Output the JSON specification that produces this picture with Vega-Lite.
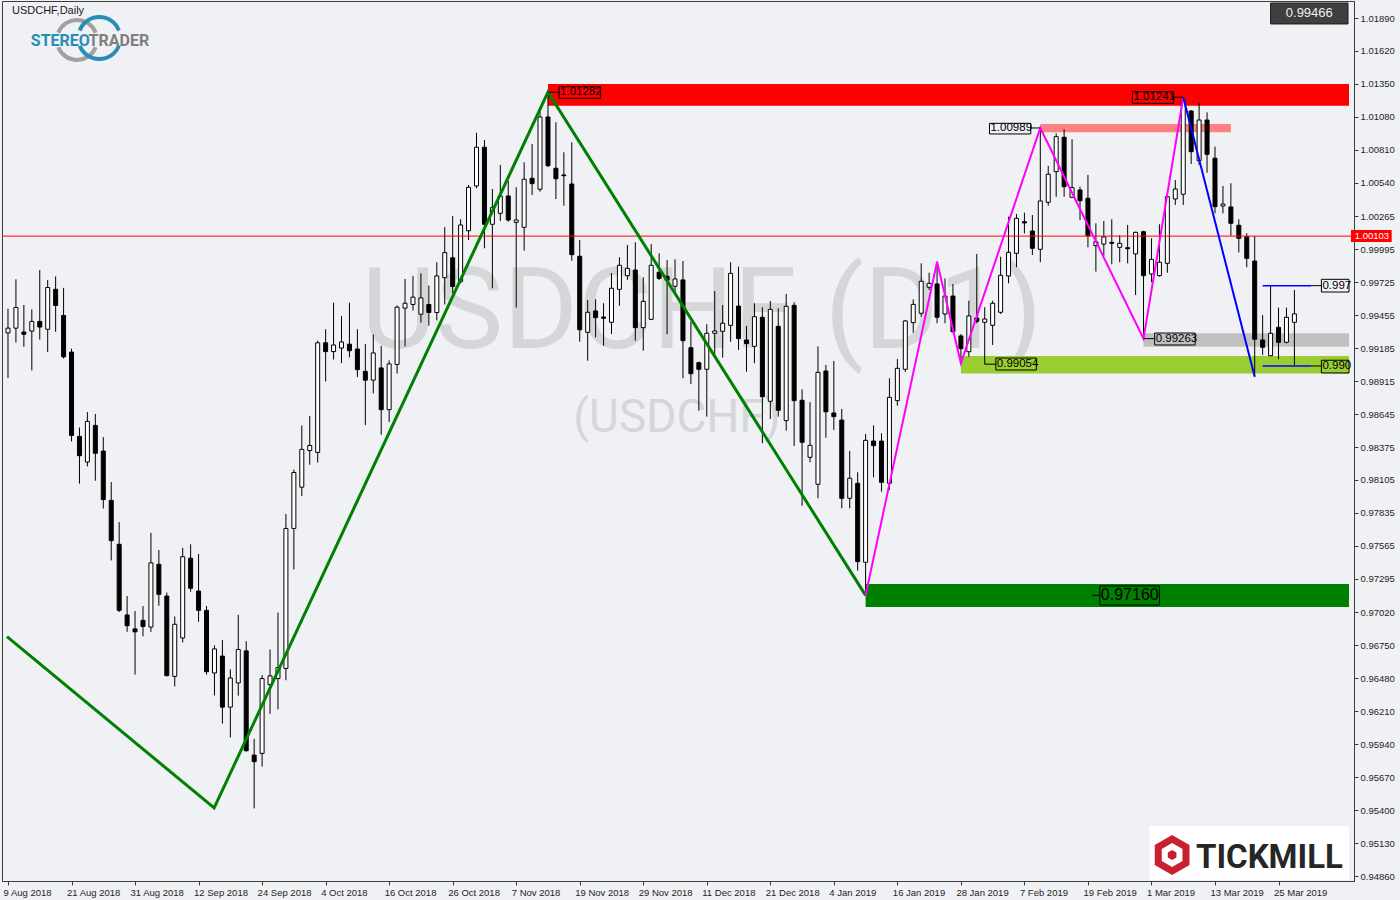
{
"$schema": "https://vega.github.io/schema/vega-lite/v6.json",
"width": 1352, "height": 880,
"autosize": {"type": "none"},
"padding": {"left": 2, "top": 1, "right": 46, "bottom": 19},
"background": "#eff1f4",
"config": {"view": {"stroke": "#3c3c3c", "fill": "#eff1f4"}},
"datasets": {
"candles": [
{"i":0,"o":0.99310,"h":0.99509,"l":0.98939,"c":0.99349},
{"i":1,"o":0.99349,"h":0.99749,"l":0.99231,"c":0.99518},
{"i":2,"o":0.99317,"h":0.99539,"l":0.99196,"c":0.99299},
{"i":3,"o":0.99325,"h":0.99503,"l":0.99003,"c":0.99404},
{"i":4,"o":0.99404,"h":0.99825,"l":0.99255,"c":0.99358},
{"i":5,"o":0.99340,"h":0.99744,"l":0.99153,"c":0.99682},
{"i":6,"o":0.99667,"h":0.99773,"l":0.99319,"c":0.99535},
{"i":7,"o":0.99453,"h":0.99679,"l":0.99100,"c":0.99114},
{"i":8,"o":0.99153,"h":0.99181,"l":0.98421,"c":0.98470},
{"i":9,"o":0.98462,"h":0.98535,"l":0.98075,"c":0.98304},
{"i":10,"o":0.98252,"h":0.98661,"l":0.98216,"c":0.98585},
{"i":11,"o":0.98552,"h":0.98646,"l":0.98099,"c":0.98324},
{"i":12,"o":0.98342,"h":0.98456,"l":0.97871,"c":0.97944},
{"i":13,"o":0.97938,"h":0.98088,"l":0.97446,"c":0.97608},
{"i":14,"o":0.97578,"h":0.97760,"l":0.97023,"c":0.97037},
{"i":15,"o":0.96999,"h":0.97154,"l":0.96861,"c":0.96911},
{"i":16,"o":0.96885,"h":0.97031,"l":0.96511,"c":0.96861},
{"i":17,"o":0.96955,"h":0.97072,"l":0.96824,"c":0.96905},
{"i":18,"o":0.96900,"h":0.97672,"l":0.96861,"c":0.97426},
{"i":19,"o":0.97414,"h":0.97531,"l":0.97075,"c":0.97168},
{"i":20,"o":0.97154,"h":0.97183,"l":0.96496,"c":0.96502},
{"i":21,"o":0.96496,"h":0.96987,"l":0.96414,"c":0.96923},
{"i":22,"o":0.96811,"h":0.97549,"l":0.96774,"c":0.97476},
{"i":23,"o":0.97464,"h":0.97578,"l":0.97189,"c":0.97218},
{"i":24,"o":0.97195,"h":0.97499,"l":0.96943,"c":0.97037},
{"i":25,"o":0.97037,"h":0.97072,"l":0.96511,"c":0.96534},
{"i":26,"o":0.96524,"h":0.96750,"l":0.96340,"c":0.96721},
{"i":27,"o":0.96662,"h":0.96794,"l":0.96109,"c":0.96244},
{"i":28,"o":0.96244,"h":0.96554,"l":0.95995,"c":0.96483},
{"i":29,"o":0.96442,"h":0.97000,"l":0.96338,"c":0.96716},
{"i":30,"o":0.96705,"h":0.96784,"l":0.95880,"c":0.95887},
{"i":31,"o":0.95851,"h":0.95984,"l":0.95414,"c":0.95797},
{"i":32,"o":0.95865,"h":0.96507,"l":0.95757,"c":0.96478},
{"i":33,"o":0.96428,"h":0.96716,"l":0.96189,"c":0.96500},
{"i":34,"o":0.96478,"h":0.97019,"l":0.96225,"c":0.96568},
{"i":35,"o":0.96561,"h":0.97826,"l":0.96464,"c":0.97708},
{"i":36,"o":0.97708,"h":0.98190,"l":0.97372,"c":0.98166},
{"i":37,"o":0.98046,"h":0.98551,"l":0.97974,"c":0.98356},
{"i":38,"o":0.98346,"h":0.98630,"l":0.98230,"c":0.98388},
{"i":39,"o":0.98331,"h":0.99247,"l":0.98248,"c":0.99229},
{"i":40,"o":0.99229,"h":0.99340,"l":0.98912,"c":0.99157},
{"i":41,"o":0.99157,"h":0.99557,"l":0.99092,"c":0.99211},
{"i":42,"o":0.99186,"h":0.99449,"l":0.99063,"c":0.99236},
{"i":43,"o":0.99218,"h":0.99557,"l":0.99110,"c":0.99164},
{"i":44,"o":0.99178,"h":0.99340,"l":0.98948,"c":0.99009},
{"i":45,"o":0.98995,"h":0.99218,"l":0.98555,"c":0.98923},
{"i":46,"o":0.98923,"h":0.99297,"l":0.98814,"c":0.99146},
{"i":47,"o":0.99023,"h":0.99204,"l":0.98475,"c":0.98681},
{"i":48,"o":0.98681,"h":0.99085,"l":0.98580,"c":0.99056},
{"i":49,"o":0.99052,"h":0.99535,"l":0.98977,"c":0.99521},
{"i":50,"o":0.99513,"h":0.99752,"l":0.99200,"c":0.99553},
{"i":51,"o":0.99543,"h":0.99777,"l":0.99492,"c":0.99603},
{"i":52,"o":0.99463,"h":0.99798,"l":0.99394,"c":0.99597},
{"i":53,"o":0.99543,"h":0.99698,"l":0.99369,"c":0.99477},
{"i":54,"o":0.99477,"h":0.99889,"l":0.99413,"c":0.99777},
{"i":55,"o":0.99762,"h":1.00177,"l":0.99543,"c":0.99968},
{"i":56,"o":0.99925,"h":1.00267,"l":0.99636,"c":0.99690},
{"i":57,"o":0.99730,"h":1.00241,"l":0.99715,"c":1.00194},
{"i":58,"o":1.00147,"h":1.00522,"l":1.00071,"c":1.00503},
{"i":59,"o":1.00514,"h":1.00950,"l":1.00495,"c":1.00831},
{"i":60,"o":1.00831,"h":1.00890,"l":1.00003,"c":1.00200},
{"i":61,"o":1.00200,"h":1.00489,"l":0.99676,"c":1.00336},
{"i":62,"o":1.00290,"h":1.00686,"l":1.00227,"c":1.00432},
{"i":63,"o":1.00432,"h":1.00555,"l":1.00221,"c":1.00235},
{"i":64,"o":1.00216,"h":1.00503,"l":0.99517,"c":1.00235},
{"i":65,"o":1.00175,"h":1.00708,"l":0.99984,"c":1.00569},
{"i":66,"o":1.00577,"h":1.00858,"l":1.00440,"c":1.00533},
{"i":67,"o":1.00487,"h":1.01145,"l":1.00467,"c":1.01079},
{"i":68,"o":1.01079,"h":1.01282,"l":1.00669,"c":1.00680},
{"i":69,"o":1.00659,"h":1.01036,"l":1.00407,"c":1.00573},
{"i":70,"o":1.00604,"h":1.00790,"l":1.00352,"c":1.00598},
{"i":71,"o":1.00530,"h":1.00872,"l":0.99902,"c":0.99951},
{"i":72,"o":0.99938,"h":1.00071,"l":0.99238,"c":0.99336},
{"i":73,"o":0.99315,"h":0.99580,"l":0.99082,"c":0.99479},
{"i":74,"o":0.99490,"h":0.99585,"l":0.99274,"c":0.99435},
{"i":75,"o":0.99440,"h":0.99553,"l":0.99205,"c":0.99430},
{"i":76,"o":0.99397,"h":0.99801,"l":0.99301,"c":0.99676},
{"i":77,"o":0.99667,"h":0.99930,"l":0.99533,"c":0.99864},
{"i":78,"o":0.99779,"h":1.00030,"l":0.99744,"c":0.99839},
{"i":79,"o":0.99825,"h":1.00052,"l":0.99246,"c":0.99353},
{"i":80,"o":0.99353,"h":0.99766,"l":0.99164,"c":0.99569},
{"i":81,"o":0.99421,"h":1.00038,"l":0.99415,"c":0.99864},
{"i":82,"o":0.99807,"h":0.99962,"l":0.99744,"c":0.99757},
{"i":83,"o":0.99774,"h":0.99907,"l":0.99299,"c":0.99741},
{"i":84,"o":0.99692,"h":0.99913,"l":0.99637,"c":0.99752},
{"i":85,"o":0.99744,"h":0.99899,"l":0.98938,"c":0.99246},
{"i":86,"o":0.99189,"h":0.99402,"l":0.98891,"c":0.98976},
{"i":87,"o":0.99066,"h":0.99074,"l":0.98673,"c":0.99012},
{"i":88,"o":0.99012,"h":0.99381,"l":0.98624,"c":0.99307},
{"i":89,"o":0.99307,"h":0.99653,"l":0.99121,"c":0.99326},
{"i":90,"o":0.99323,"h":0.99539,"l":0.99107,"c":0.99389},
{"i":91,"o":0.99372,"h":0.99889,"l":0.99238,"c":0.99798},
{"i":92,"o":0.99530,"h":0.99853,"l":0.99170,"c":0.99263},
{"i":93,"o":0.99252,"h":0.99367,"l":0.98992,"c":0.99222},
{"i":94,"o":0.99200,"h":0.99553,"l":0.99061,"c":0.99443},
{"i":95,"o":0.99438,"h":0.99520,"l":0.98406,"c":0.98787},
{"i":96,"o":0.98750,"h":0.99571,"l":0.98605,"c":0.99503},
{"i":97,"o":0.99364,"h":0.99512,"l":0.98624,"c":0.98676},
{"i":98,"o":0.98591,"h":0.99629,"l":0.98509,"c":0.99528},
{"i":99,"o":0.99536,"h":0.99561,"l":0.98383,"c":0.98755},
{"i":100,"o":0.98758,"h":0.98848,"l":0.97894,"c":0.98414},
{"i":101,"o":0.98291,"h":0.98742,"l":0.98250,"c":0.98389},
{"i":102,"o":0.98070,"h":0.99200,"l":0.97955,"c":0.98987},
{"i":103,"o":0.98998,"h":0.99047,"l":0.98451,"c":0.98664},
{"i":104,"o":0.98654,"h":0.99080,"l":0.98515,"c":0.98624},
{"i":105,"o":0.98596,"h":0.98687,"l":0.97873,"c":0.97955},
{"i":106,"o":0.97955,"h":0.98343,"l":0.97873,"c":0.98119},
{"i":107,"o":0.98078,"h":0.98168,"l":0.97362,"c":0.97436},
{"i":108,"o":0.97431,"h":0.98482,"l":0.97160,"c":0.98430},
{"i":109,"o":0.98424,"h":0.98553,"l":0.98127,"c":0.98386},
{"i":110,"o":0.98424,"h":0.98488,"l":0.98009,"c":0.98086},
{"i":111,"o":0.98078,"h":0.98938,"l":0.98023,"c":0.98782},
{"i":112,"o":0.98755,"h":0.99096,"l":0.98714,"c":0.99020},
{"i":113,"o":0.99012,"h":0.99416,"l":0.98990,"c":0.99408},
{"i":114,"o":0.99394,"h":0.99585,"l":0.99312,"c":0.99544},
{"i":115,"o":0.99471,"h":0.99880,"l":0.99443,"c":0.99733},
{"i":116,"o":0.99684,"h":0.99803,"l":0.99662,"c":0.99716},
{"i":117,"o":0.99711,"h":0.99893,"l":0.99389,"c":0.99438},
{"i":118,"o":0.99465,"h":0.99757,"l":0.99389,"c":0.99612},
{"i":119,"o":0.99612,"h":0.99711,"l":0.99312,"c":0.99320},
{"i":120,"o":0.99285,"h":0.99300,"l":0.99065,"c":0.99181},
{"i":121,"o":0.99156,"h":0.99574,"l":0.99115,"c":0.99449},
{"i":122,"o":0.99432,"h":0.99957,"l":0.99389,"c":0.99405},
{"i":123,"o":0.99397,"h":0.99520,"l":0.99054,"c":0.99424},
{"i":124,"o":0.99372,"h":0.99574,"l":0.99211,"c":0.99553},
{"i":125,"o":0.99479,"h":0.99934,"l":0.99465,"c":0.99782},
{"i":126,"o":0.99776,"h":1.00262,"l":0.99716,"c":0.99970},
{"i":127,"o":0.99962,"h":1.00284,"l":0.99848,"c":1.00249},
{"i":128,"o":1.00221,"h":1.00295,"l":1.00126,"c":1.00211},
{"i":129,"o":1.00145,"h":1.00276,"l":0.99948,"c":1.00003},
{"i":130,"o":0.99995,"h":1.00989,"l":0.99889,"c":1.00391},
{"i":131,"o":1.00380,"h":1.00678,"l":1.00352,"c":1.00610},
{"i":132,"o":1.00631,"h":1.00945,"l":1.00426,"c":1.00918},
{"i":133,"o":1.00913,"h":1.00978,"l":1.00426,"c":1.00508},
{"i":134,"o":1.00421,"h":1.00896,"l":1.00415,"c":1.00500},
{"i":135,"o":1.00481,"h":1.00508,"l":1.00235,"c":1.00393},
{"i":136,"o":1.00413,"h":1.00604,"l":1.00011,"c":1.00106},
{"i":137,"o":1.00025,"h":1.00208,"l":0.99812,"c":1.00057},
{"i":138,"o":1.00038,"h":1.00227,"l":0.99940,"c":1.00096},
{"i":139,"o":1.00052,"h":1.00241,"l":0.99872,"c":1.00044},
{"i":140,"o":1.00011,"h":1.00110,"l":0.99889,"c":1.00044},
{"i":141,"o":1.00008,"h":1.00194,"l":0.99880,"c":1.00000},
{"i":142,"o":0.99957,"h":1.00139,"l":0.99621,"c":1.00134},
{"i":143,"o":1.00139,"h":1.00147,"l":0.99263,"c":0.99779},
{"i":144,"o":0.99793,"h":1.00085,"l":0.99725,"c":0.99913},
{"i":145,"o":0.99779,"h":1.00200,"l":0.99771,"c":0.99889},
{"i":146,"o":0.99880,"h":1.00432,"l":0.99803,"c":1.00426},
{"i":147,"o":1.00407,"h":1.00563,"l":1.00358,"c":1.00489},
{"i":148,"o":1.00446,"h":1.01241,"l":1.00358,"c":1.01213},
{"i":149,"o":1.01128,"h":1.01136,"l":1.00694,"c":1.00795},
{"i":150,"o":1.00721,"h":1.01191,"l":1.00686,"c":1.01054},
{"i":151,"o":1.01054,"h":1.01117,"l":1.00623,"c":1.00773},
{"i":152,"o":1.00741,"h":1.00836,"l":1.00290,"c":1.00344},
{"i":153,"o":1.00350,"h":1.00514,"l":1.00290,"c":1.00366},
{"i":154,"o":1.00342,"h":1.00536,"l":1.00106,"c":1.00208},
{"i":155,"o":1.00192,"h":1.00241,"l":0.99970,"c":1.00085},
{"i":156,"o":1.00098,"h":1.00126,"l":0.99848,"c":0.99921},
{"i":157,"o":0.99899,"h":1.00103,"l":0.98950,"c":0.99258},
{"i":158,"o":0.99252,"h":0.99457,"l":0.99129,"c":0.99192},
{"i":159,"o":0.99123,"h":0.99697,"l":0.99121,"c":0.99307},
{"i":160,"o":0.99356,"h":0.99517,"l":0.99094,"c":0.99233},
{"i":161,"o":0.99233,"h":0.99517,"l":0.99225,"c":0.99438},
{"i":162,"o":0.99397,"h":0.99662,"l":0.99047,"c":0.99466}
],
"zones": [
{"zone":"resistance","i1":68,"i2":168.875,"p1":1.01350,"p2":1.01172},
{"zone":"prior high","i1":130,"i2":154,"p1":1.01022,"p2":1.00954},
{"zone":"support mid","i1":143,"i2":168.875,"p1":0.99307,"p2":0.99197},
{"zone":"support","i1":120,"i2":168.875,"p1":0.99121,"p2":0.98977},
{"zone":"target","i1":108,"i2":168.875,"p1":0.97253,"p2":0.97064}
],
"zigzag": [
{"leg":"green","n":0,"i":-0.125,"p":0.96822},
{"leg":"green","n":1,"i":25.96,"p":0.95418},
{"leg":"green","n":2,"i":68,"p":1.01282},
{"leg":"green","n":3,"i":108,"p":0.97160},
{"leg":"magenta","n":0,"i":108,"p":0.97160},
{"leg":"magenta","n":1,"i":117,"p":0.99893},
{"leg":"magenta","n":2,"i":120,"p":0.99061},
{"leg":"magenta","n":3,"i":130,"p":1.00989},
{"leg":"magenta","n":4,"i":143,"p":0.99263},
{"leg":"magenta","n":5,"i":148,"p":1.01241},
{"leg":"blue","n":0,"i":148,"p":1.01241},
{"leg":"blue","n":1,"i":157,"p":0.98950}
],
"levels": [
{"i1":158,"i2":164.1,"p":0.99697},
{"i1":158,"i2":164.1,"p":0.99039}
],
"tags": [
{"label":"1.01282","c0":68.1,"c1":69.4,"bl":69.4,"br":74.6,"p":1.01282,"pt":1.01327,"pb":1.01232},
{"label":"1.01241","c0":146.8,"c1":148,"bl":141.6,"br":146.8,"p":1.01241,"pt":1.01286,"pb":1.01191},
{"label":"1.00989","c0":128.8,"c1":130,"bl":123.6,"br":128.8,"p":1.00989,"pt":1.01027,"pb":1.00940},
{"label":"0.99054","c0":123,"c1":124.4,"bl":124.4,"br":129.5,"p":0.99054,"pt":0.99104,"pb":0.99006},
{"label":"0.99263","c0":143,"c1":144.4,"bl":144.4,"br":149.5,"p":0.99263,"pt":0.99309,"pb":0.99211},
{"label":"0.997","c0":164.1,"c1":165.4,"bl":165.4,"br":168.875,"p":0.99697,"pt":0.99749,"pb":0.99645},
{"label":"0.990","c0":164.1,"c1":165.4,"bl":165.4,"br":168.875,"p":0.99039,"pt":0.99086,"pb":0.98982},
{"label":"0.97160","c0":136.5,"c1":137.5,"bl":137.5,"br":145,"p":0.97160,"pt":0.97236,"pb":0.97081}
]
},
"layer": [
{"data":{"values":[{}]},
 "mark":{"type":"text","text":"USDCHF (D1)","font":"Roboto","fontSize":114,"color":"#d5d6d8","align":"center","baseline":"alphabetic"},
 "encoding":{
  "x":{"datum":87.4,"type":"quantitative","scale":{"domain":[-0.125,168.875],"nice":false,"zero":false}},
  "y":{"datum":0.99186,"type":"quantitative","scale":{"domain":[0.948195,1.020293],"nice":false,"zero":false}}}},
{"data":{"values":[{}]},
 "mark":{"type":"text","text":"(USDCHF)","font":"Roboto","fontSize":46,"color":"#d5d6d8","align":"center","baseline":"alphabetic"},
 "encoding":{"x":{"datum":84.25,"type":"quantitative"},"y":{"datum":0.98498,"type":"quantitative"}}},
{"data":{"name":"zones"},
 "mark":{"type":"rect"},
 "encoding":{
  "x":{"field":"i1","type":"quantitative"},"x2":{"field":"i2"},
  "y":{"field":"p1","type":"quantitative"},"y2":{"field":"p2"},
  "color":{"field":"zone","type":"nominal","legend":null,"scale":{"domain":["resistance","prior high","support mid","support","target"],"range":["#ff0000","#ff8080","#c0c0c0","#9acd32","#008000"]}}}},
{"data":{"name":"candles"},
 "mark":{"type":"rule","color":"#000000","strokeWidth":1},
 "encoding":{
  "x":{"field":"i","type":"quantitative","scale":{"domain":[-0.125,168.875],"nice":false,"zero":false},
   "axis":{"orient":"bottom","title":null,"grid":false,"values":[0,8,16,24,32,40,48,56,64,72,80,88,96,104,112,120,128,136,144,152,160],"tickCount":40,
    "labelExpr":"['9 Aug 2018','21 Aug 2018','31 Aug 2018','12 Sep 2018','24 Sep 2018','4 Oct 2018','16 Oct 2018','26 Oct 2018','7 Nov 2018','19 Nov 2018','29 Nov 2018','11 Dec 2018','21 Dec 2018','4 Jan 2019','16 Jan 2019','28 Jan 2019','7 Feb 2019','19 Feb 2019','1 Mar 2019','13 Mar 2019','25 Mar 2019'][round(datum.value/8)]",
    "domain":true,"ticks":true,"labels":true,
    "domainColor":"#3c3c3c","tickColor":"#3c3c3c","tickSize":4,"labelAlign":"left","labelOffset":-5,"labelPadding":2,
    "labelFont":"Liberation Sans","labelFontSize":9.5,"labelColor":"#1e1e1e","labelOverlap":false,"labelFlush":false}},
  "y":{"field":"l","type":"quantitative","scale":{"domain":[0.948195,1.020293],"nice":false,"zero":false},
   "axis":{"orient":"right","title":null,"grid":false,"tickCount":40,
    "values":[1.0189,1.0162,1.0135,1.0108,1.0081,1.0054,1.00265,0.99995,0.99725,0.99455,0.99185,0.98915,0.98645,0.98375,0.98105,0.97835,0.97565,0.97295,0.9702,0.9675,0.9648,0.9621,0.9594,0.9567,0.954,0.9513,0.9486],
    "domain":true,"ticks":true,"labels":true,
    "format":".5f","domainColor":"#3c3c3c","tickColor":"#3c3c3c","tickSize":4,"labelPadding":2,
    "labelFont":"Liberation Sans","labelFontSize":9.5,"labelColor":"#1e1e1e","labelOverlap":false,"labelFlush":false,"labelBaseline":"middle"}},
  "y2":{"field":"h"}}},
{"data":{"name":"candles"},
 "mark":{"type":"bar","orient":"vertical","size":4,"stroke":"#000000","strokeWidth":1},
 "encoding":{
  "x":{"field":"i","type":"quantitative"},
  "y":{"field":"o","type":"quantitative"},"y2":{"field":"c"},
  "fill":{"condition":{"test":"datum.c >= datum.o","value":"#ffffff"},"value":"#000000"}}},
{"data":{"values":[{}]},
 "mark":{"type":"rule","color":"#ff0000","strokeWidth":1},
 "encoding":{"y":{"datum":1.00103,"type":"quantitative"}}},
{"data":{"name":"zigzag"},"transform":[{"filter":"datum.leg === 'green'"}],
 "mark":{"type":"line","color":"#008000","strokeWidth":3},
 "encoding":{"x":{"field":"i","type":"quantitative"},"y":{"field":"p","type":"quantitative"},"order":{"field":"n"}}},
{"data":{"name":"zigzag"},"transform":[{"filter":"datum.leg === 'magenta'"}],
 "mark":{"type":"line","color":"#ff00ff","strokeWidth":2},
 "encoding":{"x":{"field":"i","type":"quantitative"},"y":{"field":"p","type":"quantitative"},"order":{"field":"n"}}},
{"data":{"name":"zigzag"},"transform":[{"filter":"datum.leg === 'blue'"}],
 "mark":{"type":"line","color":"#0000ff","strokeWidth":2},
 "encoding":{"x":{"field":"i","type":"quantitative"},"y":{"field":"p","type":"quantitative"},"order":{"field":"n"}}},
{"data":{"name":"levels"},
 "mark":{"type":"rule","color":"#0000ff","strokeWidth":1.5},
 "encoding":{"x":{"field":"i1","type":"quantitative"},"x2":{"field":"i2"},"y":{"field":"p","type":"quantitative"}}},
{"data":{"name":"tags"},
 "mark":{"type":"rule","color":"#000000","strokeWidth":1},
 "encoding":{"x":{"field":"c0","type":"quantitative"},"x2":{"field":"c1"},"y":{"field":"p","type":"quantitative"}}},
{"data":{"name":"tags"},
 "mark":{"type":"rect","fill":"#000000","fillOpacity":0,"stroke":"#000000","strokeWidth":1},
 "encoding":{"x":{"field":"bl","type":"quantitative"},"x2":{"field":"br"},"y":{"field":"pt","type":"quantitative"},"y2":{"field":"pb"}}},
{"data":{"name":"tags"},"transform":[{"filter":"datum.label !== '0.97160'"}],
 "mark":{"type":"text","font":"Liberation Sans","fontSize":11.5,"color":"#000000","align":"left","baseline":"middle","dx":1},
 "encoding":{"x":{"field":"bl","type":"quantitative"},"y":{"field":"p","type":"quantitative"},"text":{"field":"label"}}},
{"data":{"name":"tags"},"transform":[{"filter":"datum.label === '0.97160'"}],
 "mark":{"type":"text","font":"Liberation Sans","fontSize":16,"color":"#000000","align":"left","baseline":"middle","dx":1},
 "encoding":{"x":{"field":"bl","type":"quantitative"},"y":{"field":"p","type":"quantitative"},"text":{"field":"label"}}},
{"data":{"values":[{}]},
 "mark":{"type":"text","text":"USDCHF,Daily","font":"Liberation Sans","fontSize":11,"color":"#1a1a1a","align":"left","baseline":"alphabetic"},
 "encoding":{"x":{"datum":0.5,"type":"quantitative"},"y":{"datum":1.01923,"type":"quantitative"}}},
{"data":{"values":[{}]},
 "mark":{"type":"arc","theta":-1.2,"theta2":1.2,"innerRadius":18,"outerRadius":22,"color":"#a0a0a0"},
 "encoding":{"x":{"datum":8.69,"type":"quantitative"},"y":{"datum":1.01710,"type":"quantitative"}}},
{"data":{"values":[{}]},
 "mark":{"type":"arc","theta":1.94,"theta2":4.34,"innerRadius":18,"outerRadius":22,"color":"#a0a0a0"},
 "encoding":{"x":{"datum":8.69,"type":"quantitative"},"y":{"datum":1.01710,"type":"quantitative"}}},
{"data":{"values":[{}]},
 "mark":{"type":"arc","theta":-1.2,"theta2":1.2,"innerRadius":19,"outerRadius":23,"color":"#2a8db5"},
 "encoding":{"x":{"datum":11.5,"type":"quantitative"},"y":{"datum":1.01726,"type":"quantitative"}}},
{"data":{"values":[{}]},
 "mark":{"type":"arc","theta":1.94,"theta2":4.34,"innerRadius":19,"outerRadius":23,"color":"#2a8db5"},
 "encoding":{"x":{"datum":11.5,"type":"quantitative"},"y":{"datum":1.01726,"type":"quantitative"}}},
{"data":{"values":[{}]},
 "mark":{"type":"text","text":"STEREO","font":"Roboto","fontWeight":"bold","fontSize":16,"color":"#2a8db5","align":"left","baseline":"alphabetic"},
 "encoding":{"x":{"datum":2.875,"type":"quantitative"},"y":{"datum":1.01663,"type":"quantitative"}}},
{"data":{"values":[{}]},
 "mark":{"type":"text","text":"TRADER","font":"Roboto","fontWeight":"bold","fontSize":16,"color":"#7f7f7f","align":"left","baseline":"alphabetic"},
 "encoding":{"x":{"datum":10.15,"type":"quantitative"},"y":{"datum":1.01663,"type":"quantitative"}}},
{"data":{"values":[{}]},
 "mark":{"type":"rect","fill":"#ffffff"},
 "encoding":{"x":{"datum":143.75,"type":"quantitative"},"x2":{"datum":168.875},"y":{"datum":0.95270,"type":"quantitative"},"y2":{"datum":0.94830}}},
{"data":{"values":[{}]},
 "mark":{"type":"point","shape":"M0,-1L0.866,-0.5L0.866,0.5L0,1L-0.866,0.5L-0.866,-0.5Z","filled":false,"size":1024,"stroke":"#c8202f","strokeWidth":7,"opacity":1},
 "encoding":{"x":{"datum":146.6,"type":"quantitative"},"y":{"datum":0.95032,"type":"quantitative"}}},
{"data":{"values":[{}]},
 "mark":{"type":"point","shape":"M0,-1L0.866,-0.5L0.866,0.5L0,1L-0.866,0.5L-0.866,-0.5Z","filled":true,"size":100,"fill":"#c8202f","opacity":1},
 "encoding":{"x":{"datum":146.6,"type":"quantitative"},"y":{"datum":0.95032,"type":"quantitative"}}},
{"data":{"values":[{}]},
 "mark":{"type":"text","text":"TICKMILL","font":"Roboto","fontWeight":"bold","fontSize":33,"color":"#262626","align":"left","baseline":"alphabetic"},
 "encoding":{"x":{"datum":149.6,"type":"quantitative"},"y":{"datum":0.94926,"type":"quantitative"}}},
{"data":{"values":[{}]},
 "mark":{"type":"rect","fill":"#3f3f3f","stroke":"#1e1e1e","strokeWidth":1},
 "encoding":{"x":{"datum":159,"type":"quantitative"},"x2":{"datum":168.75},"y":{"datum":1.02013,"type":"quantitative"},"y2":{"datum":1.01841}}},
{"data":{"values":[{}]},
 "mark":{"type":"text","text":"0.99466","font":"Liberation Sans","fontSize":13,"color":"#f0f0f0","align":"center","baseline":"middle"},
 "encoding":{"x":{"datum":163.875,"type":"quantitative"},"y":{"datum":1.01927,"type":"quantitative"}}},
{"data":{"values":[{}]},
 "mark":{"type":"rect","fill":"#ff0000"},
 "encoding":{"x":{"datum":169.125,"type":"quantitative"},"x2":{"datum":174.25},"y":{"datum":1.00153,"type":"quantitative"},"y2":{"datum":1.00055}}},
{"data":{"values":[{}]},
 "mark":{"type":"text","text":"1.00103","font":"Liberation Sans","fontSize":9.5,"color":"#ffffff","align":"left","baseline":"middle"},
 "encoding":{"x":{"datum":169.6,"type":"quantitative"},"y":{"datum":1.00103,"type":"quantitative"}}}
]
}
